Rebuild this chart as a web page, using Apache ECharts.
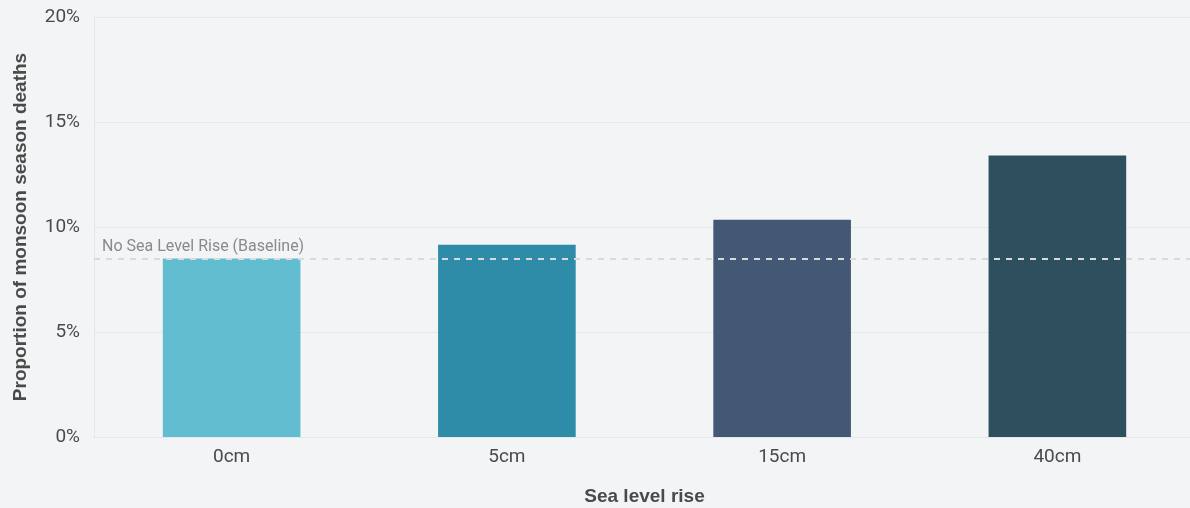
<!DOCTYPE html>
<html lang="en">
<head>
    <meta charset="UTF-8">
    <title>sea level rise</title>
    <script src="https://cdn.jsdelivr.net/npm/echarts@6/dist/echarts.min.js"></script>
    <style>
        html, body { margin: 0; padding: 0; background: #f3f4f6; }
        #main { width: 1190px; height: 508px; }
    </style>
</head>
<body>
<div id="main"></div>
<script>
    // data
    var categories = ['0cm', '5cm', '15cm', '40cm'];
    var values = [8.5, 9.15, 10.35, 13.4];
    var barColors = ['#62bdd0', '#2e8ca8', '#435875', '#2e505e'];
    var baseline = 8.5;
    var baselineLabel = 'No Sea Level Rise (Baseline)';

    var font = 'Roboto, Arial, sans-serif';
    var boldFont = '"Liberation Sans", Arial, Helvetica, sans-serif';
    var myChart = echarts.init(document.getElementById('main'));

    var barData = [];
    for (var i = 0; i < values.length; i++) {
        barData.push({ value: values[i], itemStyle: { color: barColors[i] } });
    }

    var option = {
        backgroundColor: '#f3f4f6',
        animation: false,
        textStyle: { fontFamily: font },
        grid: { left: 94, right: -5, top: 17, bottom: 71, containLabel: false, outerBoundsMode: 'none' },
        xAxis: {
            type: 'category',
            data: categories,
            name: 'Sea level rise',
            nameLocation: 'middle',
            nameGap: 50,
            nameTextStyle: { fontSize: 19, fontWeight: 'bold', color: '#4a4a4a', fontFamily: boldFont },
            axisLine: { lineStyle: { color: '#e6e7e9' } },
            axisTick: { alignWithLabel: true, length: 5, lineStyle: { color: '#e6e7e9' } },
            axisLabel: { fontSize: 19, color: '#4a4a4a', margin: 11, fontFamily: font }
        },
        yAxis: {
            type: 'value',
            min: 0,
            max: 20,
            interval: 5,
            name: 'Proportion of monsoon season deaths',
            nameLocation: 'middle',
            nameGap: 64,
            nameTextStyle: { fontSize: 19, fontWeight: 'bold', color: '#4a4a4a', fontFamily: boldFont },
            axisLine: { show: true, lineStyle: { color: '#e6e7e9' } },
            axisTick: { show: false },
            axisLabel: { fontSize: 19, color: '#4a4a4a', margin: 14, formatter: '{value}%', fontFamily: font },
            splitLine: { lineStyle: { color: '#e6e7e9' } }
        },
        series: [{
            type: 'bar',
            data: barData,
            barWidth: '50%',
            markLine: {
                silent: true,
                symbol: 'none',
                z: 10,
                lineStyle: { type: [6, 6], color: '#d9dadc', width: 2 },
                label: {
                    position: 'insideStartTop',
                    formatter: baselineLabel,
                    color: '#8a8a8a',
                    fontSize: 16,
                    fontFamily: font,
                    distance: [8, 4]
                },
                data: [{ yAxis: baseline }]
            }
        }]
    };

    myChart.setOption(option);
</script>
</body>
</html>
